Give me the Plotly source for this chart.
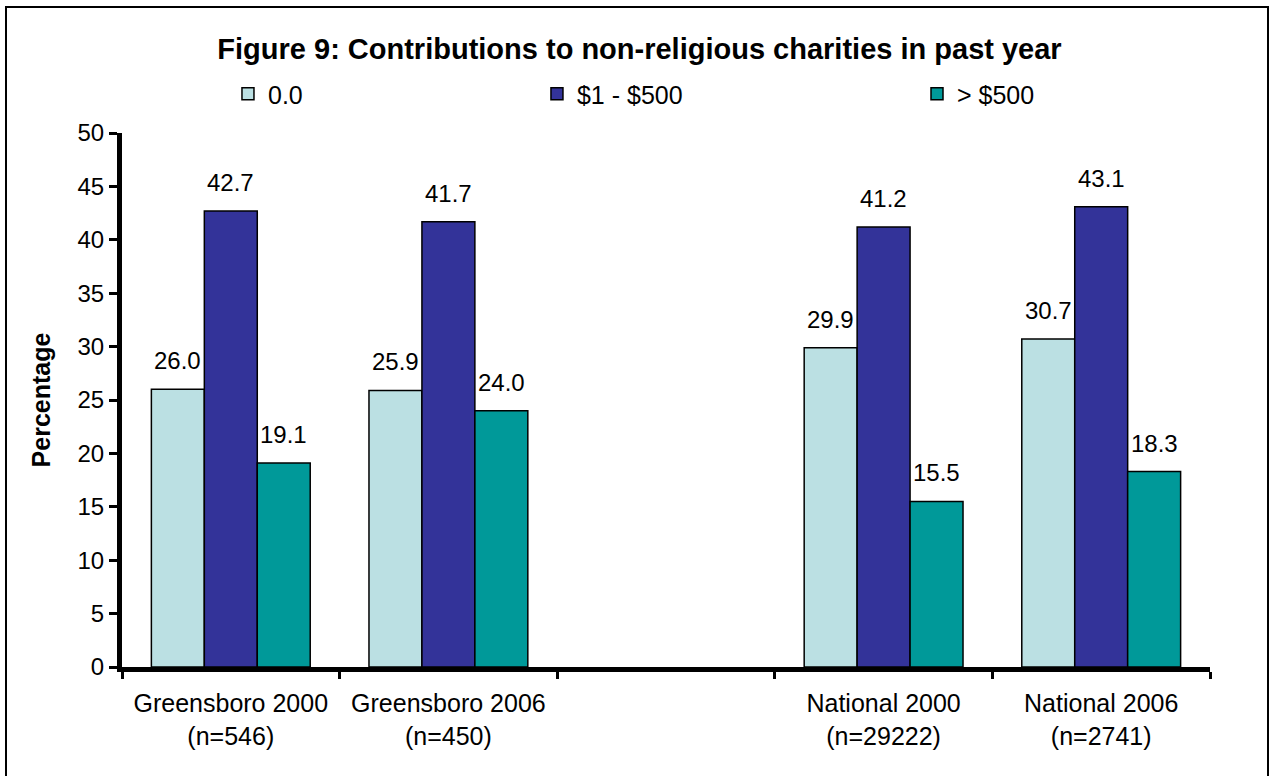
import plotly.graph_objects as go

# Survey groups (a blank slot separates the Greensboro and National groups)
categories = [
    "Greensboro 2000<br>(n=546)",
    "Greensboro 2006<br>(n=450)",
    " ",
    "National 2000<br>(n=29222)",
    "National 2006<br>(n=2741)",
]
series_names = ["0.0", "$1 - $500", "> $500"]
vals_zero = [26.0, 25.9, None, 29.9, 30.7]
vals_low = [42.7, 41.7, None, 41.2, 43.1]
vals_high = [19.1, 24.0, None, 15.5, 18.3]
y_ticks = [0, 5, 10, 15, 20, 25, 30, 35, 40, 45, 50]

colors = ["#BBE0E3", "#333399", "#009999"]
series_vals = [vals_zero, vals_low, vals_high]
FONT = "Liberation Sans, Arial, sans-serif"
BARGAP = 0.27

fig = go.Figure()
legend_ids = ["legend", "legend2", "legend3"]
for name, vals, col, lg in zip(series_names, series_vals, colors, legend_ids):
    fig.add_trace(go.Bar(
        x=categories, y=vals, name=name, showlegend=True,
        marker=dict(color=col, line=dict(color="black", width=1.5)),
        legend=lg,
    ))

# value labels above each bar, offset to the bar's position inside its group
bar_w = (1 - BARGAP) / 3
annotations = []
for k, vals in enumerate(series_vals):
    for i, v in enumerate(vals):
        if v is None:
            continue
        annotations.append(dict(
            x=i + (k - 1) * bar_w, y=v, xref="x", yref="y",
            text=f"{v:.1f}", showarrow=False, yanchor="bottom",
            yshift=13, font=dict(family=FONT, size=24, color="black"),
        ))

legend_common = dict(
    orientation="h", yanchor="middle", xanchor="left", y=1.073,
    font=dict(family=FONT, size=25, color="black"),
    bgcolor="rgba(0,0,0,0)", borderwidth=0,
)

fig.update_layout(
    width=1279, height=776,
    margin=dict(l=122, r=69, t=133, b=109),
    paper_bgcolor="white", plot_bgcolor="white",
    barmode="group", bargap=BARGAP, bargroupgap=0,
    showlegend=True,
    font=dict(family=FONT, size=24, color="black"),
    title=dict(
        text="<b>Figure 9: Contributions to non-religious charities in past year</b>",
        x=0.5, xref="container", xanchor="center",
        y=1 - 49 / 776, yref="container", yanchor="middle",
        font=dict(family=FONT, size=29, color="black"),
    ),
    legend=dict(legend_common, x=0.0974),
    legend2=dict(legend_common, x=0.3814),
    legend3=dict(legend_common, x=0.7307),
    xaxis=dict(
        type="category", tickson="boundaries",
        showline=True, linecolor="black", linewidth=5,
        ticks="outside", ticklen=7, tickwidth=3, tickcolor="black",
        showgrid=False, zeroline=False,
        tickfont=dict(family=FONT, size=25, color="black"),
        ticklabelstandoff=10,
    ),
    yaxis=dict(
        range=[0, 50], tickvals=y_ticks,
        showline=True, linecolor="black", linewidth=5,
        ticks="outside", ticklen=8, tickwidth=3, tickcolor="black",
        showgrid=False, zeroline=False,
        tickfont=dict(family=FONT, size=24, color="black"),
        title=dict(text="<b>Percentage</b>", standoff=21,
                   font=dict(family=FONT, size=25, color="black")),
    ),
    annotations=annotations,
    shapes=[dict(
        type="rect", xref="paper", yref="paper",
        x0=(6 - 122) / 1088, x1=(1268 - 122) / 1088,
        y0=(667 - 778) / 534, y1=(667 - 7) / 534,
        line=dict(color="black", width=2), fillcolor="rgba(0,0,0,0)",
        layer="below",
    )],
)

fig.write_html("out.html")
